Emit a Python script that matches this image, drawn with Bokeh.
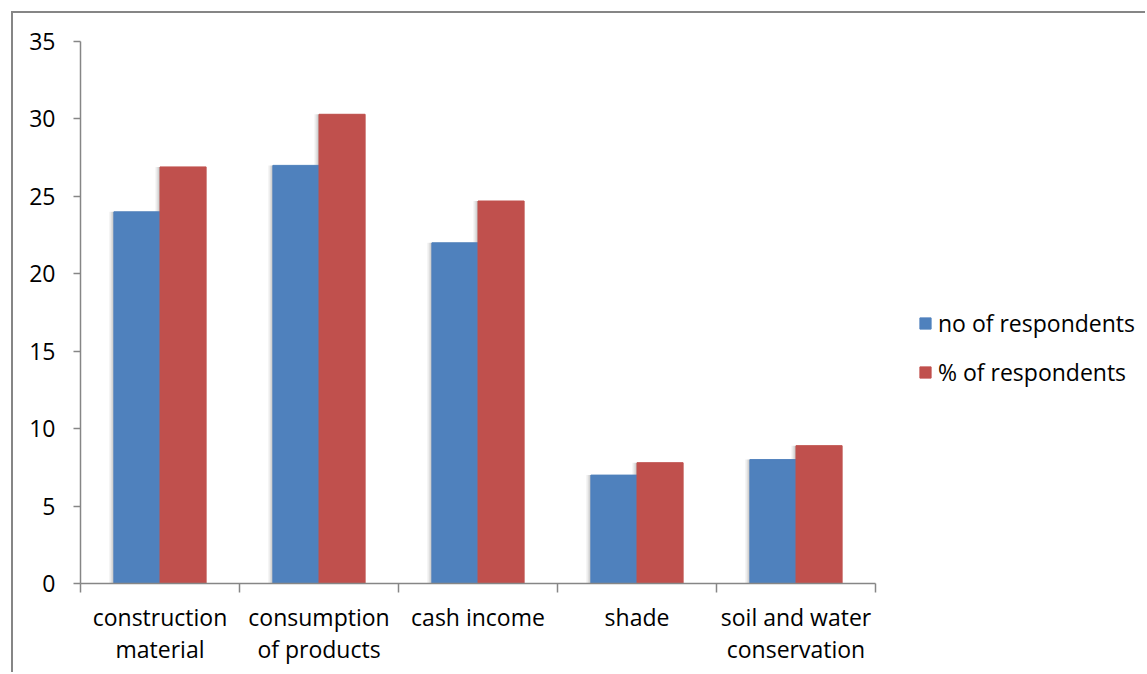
from bokeh.plotting import figure
from bokeh.models import ColumnDataSource, FixedTicker, Legend, LegendItem, Range1d
from bokeh.transform import dodge
from bokeh.embed import file_html
from bokeh.resources import INLINE

categories = ["construction\nmaterial", "consumption\nof products", "cash income",
              "shade", "soil and water\nconservation"]
no_of_respondents = [24, 27, 22, 7, 8]
pct_of_respondents = [26.9, 30.3, 24.7, 7.8, 8.9]
y_ticks = [0, 5, 10, 15, 20, 25, 30, 35]
series_names = ["no of respondents", "% of respondents"]

BLUE = "#4F81BD"
RED = "#C0504D"
AXIS = "#868686"
FONT = "Open Sans"

n = len(categories)
centers = [i + 0.5 for i in range(n)]
bounds = list(range(n + 1))
src = ColumnDataSource(dict(x=centers, no=no_of_respondents, pct=pct_of_respondents))

# frame spans to the right edge so the legend sits inside it; axis line limited by bounds
p = figure(width=1134, height=661, x_range=Range1d(0, n * 1067 / 795),
           y_range=Range1d(0, 35), output_backend="svg", toolbar_location=None,
           min_border_left=67, min_border_top=28, min_border_right=0,
           min_border_bottom=91)
p.margin = (11, 0, 0, 11)
p.styles = {"border-top": "2px solid #868686", "border-left": "2px solid #868686"}
p.outline_line_color = None
p.xgrid.visible = False
p.ygrid.visible = False
p.background_fill_color = "white"
p.border_fill_color = "white"

bw = 0.29
off = 0.145
# soft shadows
for sh, a in [(0.028, 0.07), (0.016, 0.09), (0.007, 0.1)]:
    p.vbar(x=dodge("x", -off - sh, range=p.x_range), top="no", width=bw, source=src,
           fill_color="black", fill_alpha=a, line_color=None)
    p.vbar(x=dodge("x", off - sh, range=p.x_range), top="pct", width=bw, source=src,
           fill_color="black", fill_alpha=a, line_color=None)

r1 = p.vbar(x=dodge("x", -off, range=p.x_range), top="no", width=bw, source=src,
            fill_color=BLUE, line_color=BLUE)
r2 = p.vbar(x=dodge("x", off, range=p.x_range), top="pct", width=bw, source=src,
            fill_color=RED, line_color=RED)

xa = p.xaxis[0]
xa.bounds = (0, n)
xa.ticker = FixedTicker(ticks=centers, minor_ticks=bounds)
xa.major_label_overrides = {c: lab for c, lab in zip(centers, categories)}
xa.major_tick_in = 0
xa.major_tick_out = 0
xa.minor_tick_in = 0
xa.minor_tick_out = 9
xa.minor_tick_line_color = AXIS
xa.minor_tick_line_width = 1.5
xa.axis_line_color = AXIS
xa.axis_line_width = 1.5
xa.major_label_text_font = FONT
xa.major_label_text_font_size = "23px"
xa.major_label_text_color = "black"
xa.major_label_text_line_height = 1.03
xa.major_label_standoff = 8

ya = p.yaxis[0]
ya.ticker = FixedTicker(ticks=y_ticks, minor_ticks=[])
ya.major_tick_in = 0
ya.major_tick_out = 7
ya.major_tick_line_color = AXIS
ya.major_tick_line_width = 1.5
ya.axis_line_color = AXIS
ya.axis_line_width = 1.5
ya.major_label_text_font = FONT
ya.major_label_text_font_size = "23px"
ya.major_label_text_color = "black"
ya.major_label_standoff = 18

legend = Legend(items=[LegendItem(label=series_names[0], renderers=[r1]),
                       LegendItem(label=series_names[1], renderers=[r2])],
                location=(838, 195), orientation="vertical")
legend.glyph_width = 14
legend.glyph_height = 14
legend.label_height = 20
legend.spacing = 17
legend.padding = 0
legend.margin = 0
legend.label_standoff = 6
legend.label_text_font = FONT
legend.label_text_font_size = "23px"
legend.label_text_color = "black"
legend.border_line_alpha = 0
legend.background_fill_alpha = 0
p.add_layout(legend, "center")

open("out.html", "w").write(file_html(p, INLINE))
